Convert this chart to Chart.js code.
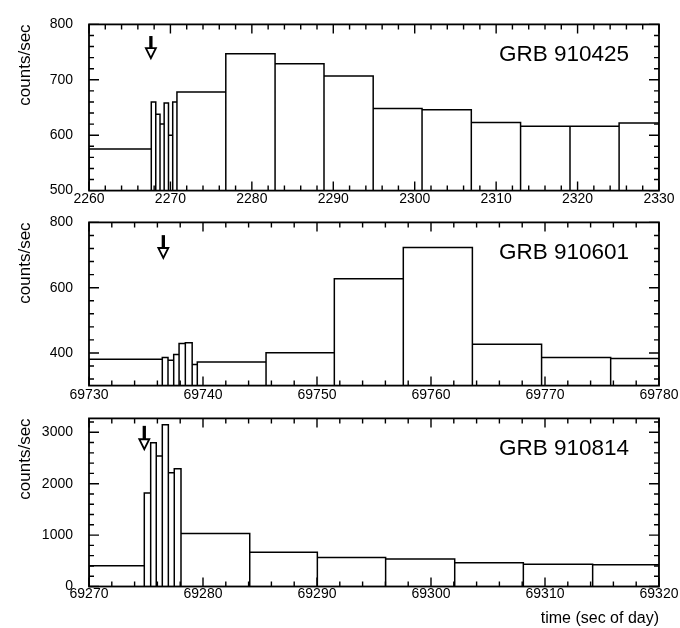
<!DOCTYPE html>
<html>
<head>
<meta charset="utf-8">
<script src="https://cdn.jsdelivr.net/npm/chart.js@4.4.0/dist/chart.umd.min.js"></script>
<style>
  body { margin: 0; background: #fff; }
  #wrap { position: relative; width: 680px; height: 628px; }
  canvas { position: absolute; left: 0; }
</style>
</head>
<body>
<div id="wrap">
  <canvas id="c1" width="680" height="215" style="top:0px"></canvas>
  <canvas id="c2" width="680" height="212" style="top:198px"></canvas>
  <canvas id="c3" width="680" height="234" style="top:394px"></canvas>
</div>
<script>
// burst names
const names = ['GRB 910425', 'GRB 910601', 'GRB 910814'];

// bin edges (sec of day) and rates (counts/sec)
const edges1 = [2260, 2267.65, 2268.2, 2268.72, 2269.23, 2269.76, 2270.28, 2270.8,
  2276.8, 2282.85, 2288.86, 2294.9, 2300.9, 2306.95, 2313.0, 2319.07, 2325.1, 2330];
const rates1 = [575, 660, 638, 620, 658, 600, 660, 678, 747, 729, 707, 648, 646, 623, 616, 616, 622];

const edges2 = [69730, 69736.43, 69736.93, 69737.43, 69737.9, 69738.45, 69739.05, 69739.5,
  69745.53, 69751.52, 69757.57, 69763.63, 69769.7, 69775.76, 69780];
const rates2 = [381, 386, 378, 395, 429, 431, 365, 372, 401, 627, 723, 427, 386, 383];

const edges3 = [69270, 69274.85, 69275.41, 69275.9, 69276.43, 69276.96, 69277.48, 69278.07,
  69284.1, 69290.03, 69296.02, 69302.08, 69308.1, 69314.18, 69320];
const rates3 = [405, 1821, 2796, 2540, 3148, 2212, 2290, 1031, 666, 562, 533, 460, 434, 423];

// axis ticks
const xTicks1 = [2260, 2270, 2280, 2290, 2300, 2310, 2320, 2330];
const xTicks2 = [69730, 69740, 69750, 69760, 69770, 69780];
const xTicks3 = [69270, 69280, 69290, 69300, 69310, 69320];
const yTicks1 = [500, 600, 700, 800];
const yTicks2 = [400, 600, 800];
const yTicks3 = [0, 1000, 2000, 3000];

// trigger arrows: time, tail rate, tip rate
const arrowT = [2267.6, 69736.52, 69274.85];
const arrowFrom = [779, 761, 3125];
const arrowTo = [739, 691, 2670];

const FONT = 'Liberation Sans';

function histPoints(edges, vals, base) {
  const pts = [];
  for (let i = 0; i < vals.length; i++) {
    pts.push({x: edges[i], y: base}, {x: edges[i], y: vals[i]},
             {x: edges[i + 1], y: vals[i]}, {x: edges[i + 1], y: base});
  }
  return pts;
}

const framePlugin = {
  id: 'frame',
  afterDatasetsDraw(chart, args, o) {
    const {ctx, chartArea: a, scales: {x, y}} = chart;
    ctx.save();
    ctx.strokeStyle = '#000';
    ctx.lineWidth = 1.4;
    ctx.beginPath();
    // x ticks, bottom and top, pointing in
    for (let v = Math.ceil(x.min / o.xMinor) * o.xMinor; v <= x.max + 1e-6; v += o.xMinor) {
      const px = x.getPixelForValue(v);
      const len = (Math.round(v) % 10 === 0) ? 9 : 5;
      ctx.moveTo(px, a.bottom); ctx.lineTo(px, a.bottom - len);
      ctx.moveTo(px, a.top); ctx.lineTo(px, a.top + len);
    }
    // y ticks, left and right
    for (let v = Math.ceil(y.min / o.yMinor) * o.yMinor; v <= y.max + 1e-6; v += o.yMinor) {
      const py = y.getPixelForValue(v);
      const len = o.yMajor.includes(v) ? 10 : 5;
      ctx.moveTo(a.left, py); ctx.lineTo(a.left + len, py);
      ctx.moveTo(a.right, py); ctx.lineTo(a.right - len, py);
    }
    ctx.stroke();
    ctx.lineWidth = 1.8;
    ctx.strokeRect(a.left, a.top, a.width, a.height);

    // arrow
    const ax = x.getPixelForValue(o.arrow[0]);
    const ay0 = y.getPixelForValue(o.arrow[1]);
    const ay1 = y.getPixelForValue(o.arrow[2]);
    ctx.lineWidth = 3.3;
    ctx.beginPath();
    ctx.moveTo(ax, ay0); ctx.lineTo(ax, ay1 - 10);
    ctx.stroke();
    ctx.lineWidth = 1.8;
    ctx.beginPath();
    ctx.moveTo(ax - 5, ay1 - 10); ctx.lineTo(ax + 5, ay1 - 10); ctx.lineTo(ax, ay1);
    ctx.closePath();
    ctx.fillStyle = '#fff';
    ctx.fill();
    ctx.stroke();

    // burst name
    ctx.fillStyle = '#000';
    ctx.font = '22.5px "' + FONT + '"';
    ctx.textAlign = 'right';
    ctx.textBaseline = 'middle';
    ctx.fillText(o.name, a.right - 30, a.top + 30);
    ctx.restore();
  }
};

function makeChart(id, edges, vals, xTicks, yTicks, yMin, yMax, yMinor, idx, padTop, xH, xLh, xTitle) {
  return new Chart(document.getElementById(id), {
    type: 'scatter',
    data: {
      datasets: [{
        data: histPoints(edges, vals, yMin),
        showLine: true,
        borderColor: '#000',
        borderWidth: 1.5,
        pointRadius: 0,
        fill: false
      }]
    },
    options: {
      responsive: false,
      animation: false,
      layout: {padding: {top: padTop, right: 21, left: 0, bottom: 0}},
      plugins: {
        legend: {display: false},
        tooltip: {enabled: false},
        frame: {xMinor: 2, yMinor: yMinor, yMajor: yTicks,
                arrow: [arrowT[idx], arrowFrom[idx], arrowTo[idx]],
                name: names[idx]}
      },
      scales: {
        x: {
          type: 'linear',
          min: xTicks[0],
          max: xTicks[xTicks.length - 1],
          afterBuildTicks: s => { s.ticks = xTicks.map(v => ({value: v})); },
          afterFit: s => { s.height = xH; },
          grid: {display: false, drawTicks: false},
          border: {display: false},
          ticks: {color: '#000', padding: 1, maxRotation: 0, autoSkip: false,
                  font: {family: FONT, size: 14, lineHeight: xLh},
                  callback: v => String(v)},
          title: {display: !!xTitle, text: xTitle || '', align: 'end', color: '#000',
                  padding: {top: 0, bottom: 0}, font: {family: FONT, size: 16}}
        },
        y: {
          min: yMin,
          max: yMax,
          afterBuildTicks: s => { s.ticks = yTicks.map(v => ({value: v})); },
          afterFit: s => { s.width = 89; },
          grid: {display: false, drawTicks: false},
          border: {display: false},
          ticks: {color: '#000', padding: 16, font: {family: FONT, size: 14},
                  callback: v => String(v)},
          title: {display: true, text: 'counts/sec', align: 'end', color: '#000',
                  padding: {top: 15, bottom: 0}, font: {family: FONT, size: 17}}
        }
      }
    },
    plugins: [framePlugin]
  });
}

makeChart('c1', edges1, rates1, xTicks1, yTicks1, 500, 800, 20, 0, 12.5, 23, 1.1);
makeChart('c2', edges2, rates2, xTicks2, yTicks2, 300, 800, 40, 1, 12, 23, 1.25);
makeChart('c3', edges3, rates3, xTicks3, yTicks3, 0, 3270, 200, 2, 12.5, 41.5, 1.0, 'time (sec of day)');
</script>
</body>
</html>
